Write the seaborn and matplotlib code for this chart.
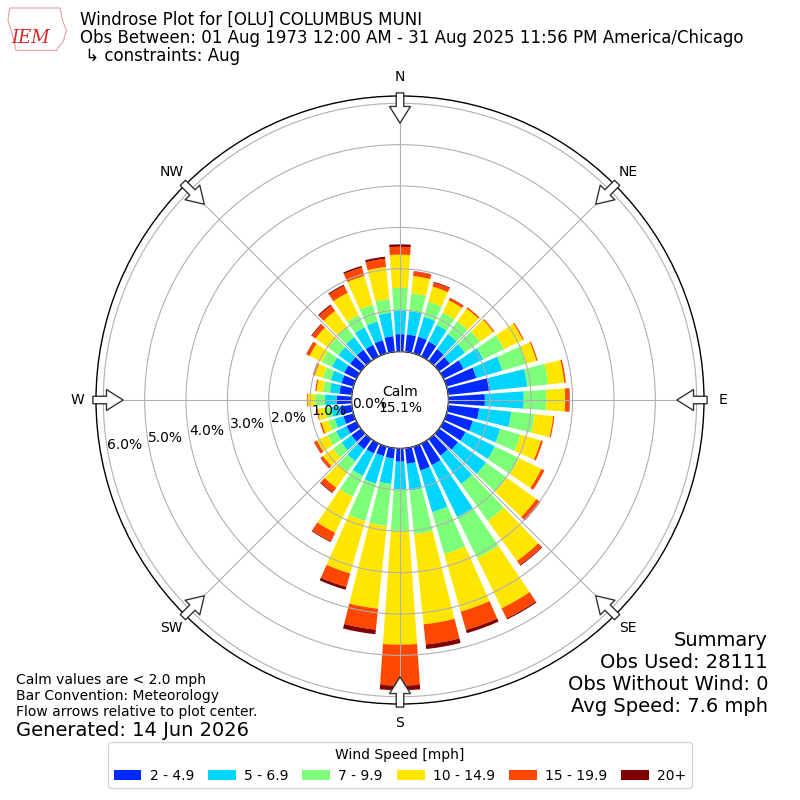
import numpy as np
import matplotlib
matplotlib.use("Agg")
import matplotlib.pyplot as plt
from matplotlib.patches import Patch, Polygon
import seaborn as sns

# Wind direction bins (deg, met convention) and frequency [%] per speed class
directions = list(range(0, 360, 10))
speed_labels = ["2 - 4.9", "5 - 6.9", "7 - 9.9", "10 - 14.9", "15 - 19.9", "20+"]

spd_2_5 = [0.42, 0.42, 0.42, 0.40, 0.35, 0.32, 0.54, 0.75, 1.02, 0.88, 0.75, 0.66,
           0.59, 0.56, 0.49, 0.58, 0.60, 0.38, 0.32, 0.25, 0.24, 0.27, 0.30, 0.28,
           0.27, 0.25, 0.27, 0.36, 0.30, 0.30, 0.33, 0.32, 0.33, 0.31, 0.33, 0.38]
spd_5_7 = [0.57, 0.57, 0.50, 0.45, 0.45, 0.45, 0.53, 0.65, 0.90, 0.94, 0.78, 0.69,
           0.79, 0.84, 0.85, 1.40, 1.05, 0.65, 0.67, 0.62, 0.69, 0.60, 0.36, 0.30,
           0.28, 0.22, 0.22, 0.28, 0.23, 0.27, 0.33, 0.35, 0.38, 0.47, 0.47, 0.57]
spd_7_10 = [0.55, 0.43, 0.38, 0.33, 0.38, 0.45, 0.56, 0.60, 0.51, 0.55, 0.57, 0.51,
            0.65, 0.62, 1.10, 1.10, 1.05, 1.06, 1.00, 1.02, 0.94, 0.56, 0.32, 0.25,
            0.23, 0.15, 0.15, 0.24, 0.17, 0.20, 0.27, 0.30, 0.30, 0.33, 0.42, 0.33]
spd_10_15 = [0.80, 0.42, 0.38, 0.33, 0.38, 0.40, 0.50, 0.26, 0.39, 0.45, 0.45, 0.51,
             0.60, 0.88, 1.20, 1.35, 1.45, 2.19, 2.75, 2.01, 1.32, 0.97, 0.47, 0.30,
             0.28, 0.18, 0.19, 0.18, 0.16, 0.20, 0.33, 0.38, 0.48, 0.60, 0.73, 0.78]
spd_15_20 = [0.19, 0.11, 0.10, 0.06, 0.04, 0.03, 0.03, 0.03, 0.04, 0.10, 0.03, 0.05,
             0.08, 0.10, 0.12, 0.27, 0.46, 0.49, 0.99, 0.51, 0.34, 0.23, 0.14, 0.07,
             0.07, 0.04, 0.02, 0.02, 0.03, 0.04, 0.08, 0.11, 0.16, 0.19, 0.21, 0.20]
spd_20_up = [0.06, 0.01, 0.02, 0.01, 0.00, 0.00, 0.00, 0.00, 0.00, 0.01, 0.00, 0.00,
             0.00, 0.02, 0.02, 0.03, 0.08, 0.11, 0.11, 0.11, 0.07, 0.02, 0.02, 0.01,
             0.01, 0.00, 0.00, 0.00, 0.00, 0.01, 0.01, 0.02, 0.03, 0.03, 0.04, 0.05]

ring_values = [0, 1, 2, 3, 4, 5, 6]
compass_labels = ["N", "NE", "E", "SE", "S", "SW", "W", "NW"]
calm_pct = 15.1

sns.set_theme(style="white", rc={"axes.axisbelow": False, "text.color": "black",
                                 "xtick.color": "black", "ytick.color": "black"})
plt.rcParams["font.family"] = ["DejaVu Sans"]

colors = plt.get_cmap("jet")(np.linspace(0, 1, 7)[1:])
bins = [spd_2_5, spd_5_7, spd_7_10, spd_10_15, spd_15_20, spd_20_up]

fig = plt.figure(figsize=(8, 8), dpi=100)
ax = fig.add_axes([0.12, 0.12, 0.76, 0.76], projection="polar")
ax.set_theta_zero_location("N")
ax.set_theta_direction(-1)
ax.set_rorigin(-1.172)
ax.set_rlim(0, 6.176)

theta = np.deg2rad(directions)
bottom = np.zeros(len(directions))
for vals, c in zip(bins, colors):
    vals = np.array(vals)
    ax.bar(theta, vals, width=np.deg2rad(8), bottom=bottom, color=c,
           linewidth=0, zorder=1)
    bottom += vals

ax.set_thetagrids(range(0, 360, 45), labels=compass_labels)
ax.tick_params(axis="x", pad=0.6, labelsize=10)
ax.set_rgrids(ring_values, labels=[""] * len(ring_values))
ax.grid(True, color="#b0b0b0", linewidth=0.8)
for sp in ax.spines.values():
    sp.set_color("black")
    sp.set_linewidth(1.0)

# ring labels along a line slightly south of west
for v in ring_values:
    ax.text(np.deg2rad(260.5), v, f"{v:.1f}%", ha="left", va="baseline",
            fontsize=10, zorder=5)

ax.text(0.5, 0.5, f"Calm\n{calm_pct}%", transform=ax.transAxes,
        ha="center", va="center", fontsize=10)

# hollow flow arrows at the compass points
for d in range(0, 360, 45):
    ax.annotate("", xy=(np.deg2rad(d), 5.52), xytext=(np.deg2rad(d), 6.25),
                arrowprops=dict(arrowstyle="simple,head_length=1.0,head_width=1.25,tail_width=0.45",
                                fc="white", ec="#333333", lw=1.0, mutation_scale=12,
                                shrinkA=0, shrinkB=0),
                annotation_clip=False, zorder=6)

# header with a rough logo outline
logo = Polygon([(0.012, 0.99), (0.075, 0.99), (0.078, 0.975), (0.083, 0.962),
                (0.079, 0.948), (0.072, 0.94), (0.071, 0.937), (0.02, 0.937),
                (0.016, 0.955), (0.01, 0.975)], closed=True, transform=fig.transFigure,
               fill=False, ec="#e8a0a0", lw=0.8)
fig.patches.append(logo)
fig.text(0.038, 0.952, "IEM", fontsize=13, color="#d62728", family="serif",
         style="italic", ha="center", va="center")
fig.text(0.1, 0.975, "Windrose Plot for [OLU] COLUMBUS MUNI", fontsize=12, va="center")
fig.text(0.1, 0.9525, "Obs Between: 01 Aug 1973 12:00 AM - 31 Aug 2025 11:56 PM America/Chicago",
         fontsize=12, va="center")
fig.text(0.1, 0.93, " ↳ constraints: Aug", fontsize=12, va="center")

# footnotes
fig.text(0.02, 0.15, "Calm values are < 2.0 mph", fontsize=10, va="center")
fig.text(0.02, 0.13, "Bar Convention: Meteorology", fontsize=10, va="center")
fig.text(0.02, 0.11, "Flow arrows relative to plot center.", fontsize=10, va="center")
fig.text(0.02, 0.0875, "Generated: 14 Jun 2026", fontsize=14, va="center")

fig.text(0.96, 0.2, "Summary", fontsize=14, ha="right", va="center")
fig.text(0.96, 0.1725, "Obs Used: 28111", fontsize=14, ha="right", va="center")
fig.text(0.96, 0.145, "Obs Without Wind: 0", fontsize=14, ha="right", va="center")
fig.text(0.96, 0.1175, "Avg Speed: 7.6 mph", fontsize=14, ha="right", va="center")

handles = [Patch(facecolor=c, edgecolor="none") for c in colors]
fig.legend(handles, speed_labels, ncol=6, loc="center", bbox_to_anchor=(0.5, 0.0435),
           title="Wind Speed [mph]", fontsize=10, title_fontsize=10,
           columnspacing=1.0, handletextpad=0.6,
           frameon=True, edgecolor="#cccccc")

fig.savefig("out.png", dpi=100)
